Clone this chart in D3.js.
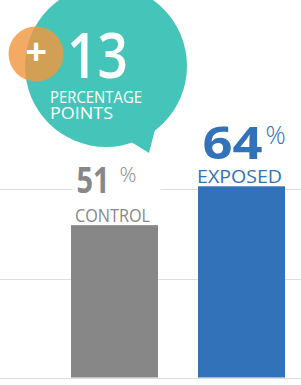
<!DOCTYPE html>
<html>
<head>
<meta charset="utf-8">
<script src="https://cdn.jsdelivr.net/npm/d3@7"></script>
<style>
	body { margin: 0; background: #fff; }
	svg { display: block; font-family: "Open Sans", sans-serif; }
</style>
</head>
<body>
<script>
var categories = ["CONTROL", "EXPOSED"];
var values = [51, 64];
var gridValues = [0, 33, 63];
var liftValue = 13;
var liftLabel = ["PERCENTAGE", "POINTS"];

var w = 301;
var h = 385;
var colors = ["#878787", "#3272b9"];
var textColors = ["#878787", "#3272b9"];
// per-bar label styling
var catWidth = [75, 85];
var numSize = [36, 45];
var numWidth = [33, 60];
var numRight = [-5, 21];
var numBase = [-32, -27];
var pctGap = [10, 3];
var pctSize = [21, 25];
var pctRise = [-11, -15];

var svg = d3.select("body")
			.append("svg")
			.attr("width", w)
			.attr("height", h);

var xScale = d3.scaleBand()
				.domain(categories)
				.range([71, 285])
				.paddingInner(0.315)
				.paddingOuter(0);

var yScale = d3.scaleLinear()
				.domain([0, 64])
				.range([377.5, 186.3]);

// gridlines
svg.selectAll(".grid")
	.data(gridValues)
	.enter()
	.append("line")
	.attr("class", "grid")
	.attr("x1", 0)
	.attr("x2", w)
	.attr("y1", function(d){ return Math.round(yScale(d)) + 0.5; })
	.attr("y2", function(d){ return Math.round(yScale(d)) + 0.5; })
	.attr("stroke", "#dedede")
	.attr("stroke-width", 1);

// bars
svg.selectAll(".bar")
	.data(values)
	.enter()
	.append("rect")
	.attr("class", "bar")
	.attr("x", function(d, i){ return xScale(categories[i]); })
	.attr("width", xScale.bandwidth())
	.attr("y", function(d){ return yScale(d); })
	.attr("height", function(d){ return yScale(0) - yScale(d); })
	.attr("fill", function(d, i){ return colors[i]; });

// labels above bars
var labels = svg.selectAll(".lbl")
	.data(values)
	.enter()
	.append("g")
	.attr("class", "lbl")
	.attr("transform", function(d, i){
		return "translate(" + (xScale(categories[i]) + xScale.bandwidth() / 2) + "," + yScale(d) + ")";
	});

labels.filter(function(d, i){ return i === 0; })
	.append("rect")
	.attr("x", -42)
	.attr("y", -62)
	.attr("width", 88)
	.attr("height", 60)
	.attr("fill", "#fff");

labels.append("text")
	.attr("x", function(d, i){ return -catWidth[i] / 2 - 2; })
	.attr("y", -3)
	.attr("font-size", 18)
	.attr("textLength", function(d, i){ return catWidth[i]; })
	.attr("lengthAdjust", "spacingAndGlyphs")
	.attr("fill", function(d, i){ return textColors[i]; })
	.text(function(d, i){ return categories[i]; });

labels.append("text")
	.attr("x", function(d, i){ return numRight[i] - numWidth[i]; })
	.attr("y", function(d, i){ return numBase[i]; })
	.attr("font-size", function(d, i){ return numSize[i]; })
	.attr("font-weight", 700)
	.attr("textLength", function(d, i){ return numWidth[i]; })
	.attr("lengthAdjust", "spacingAndGlyphs")
	.attr("fill", function(d, i){ return textColors[i]; })
	.text(function(d){ return d; });

labels.append("text")
	.attr("x", function(d, i){ return numRight[i] + pctGap[i]; })
	.attr("y", function(d, i){ return numBase[i] + pctRise[i]; })
	.attr("font-size", function(d, i){ return pctSize[i]; })
	.attr("font-weight", 300)
	.attr("fill", function(d, i){ return textColors[i]; })
	.text("%");

// speech bubble
var bubble = svg.append("g");

bubble.append("path")
	.attr("d", "M128,140 L149,153 L158,118 Z")
	.attr("fill", "#45c5b9");

bubble.append("circle")
	.attr("cx", 106)
	.attr("cy", 66)
	.attr("r", 81)
	.attr("fill", "#45c5b9");

bubble.append("circle")
	.attr("cx", 36)
	.attr("cy", 54)
	.attr("r", 27.5)
	.attr("fill", "#f0973f")
	.attr("opacity", 0.82);

bubble.append("text")
	.attr("x", 36)
	.attr("y", 65)
	.attr("text-anchor", "middle")
	.attr("font-size", 38)
	.attr("font-weight", 700)
	.attr("fill", "#fff")
	.text("+");

bubble.append("text")
	.attr("x", 67)
	.attr("y", 78)
	.attr("font-size", 63)
	.attr("font-weight", 600)
	.attr("textLength", 61)
	.attr("lengthAdjust", "spacingAndGlyphs")
	.attr("fill", "#fff")
	.text(liftValue);

var subWidth = [92, 63];
bubble.selectAll(".sub")
	.data(liftLabel)
	.enter()
	.append("text")
	.attr("class", "sub")
	.attr("x", 50)
	.attr("y", function(d, i){ return 103 + i * 16; })
	.attr("font-size", 15.5)
	.attr("textLength", function(d, i){ return subWidth[i]; })
	.attr("lengthAdjust", "spacingAndGlyphs")
	.attr("fill", "#fff")
	.text(function(d){ return d; });
</script>
</body>
</html>
